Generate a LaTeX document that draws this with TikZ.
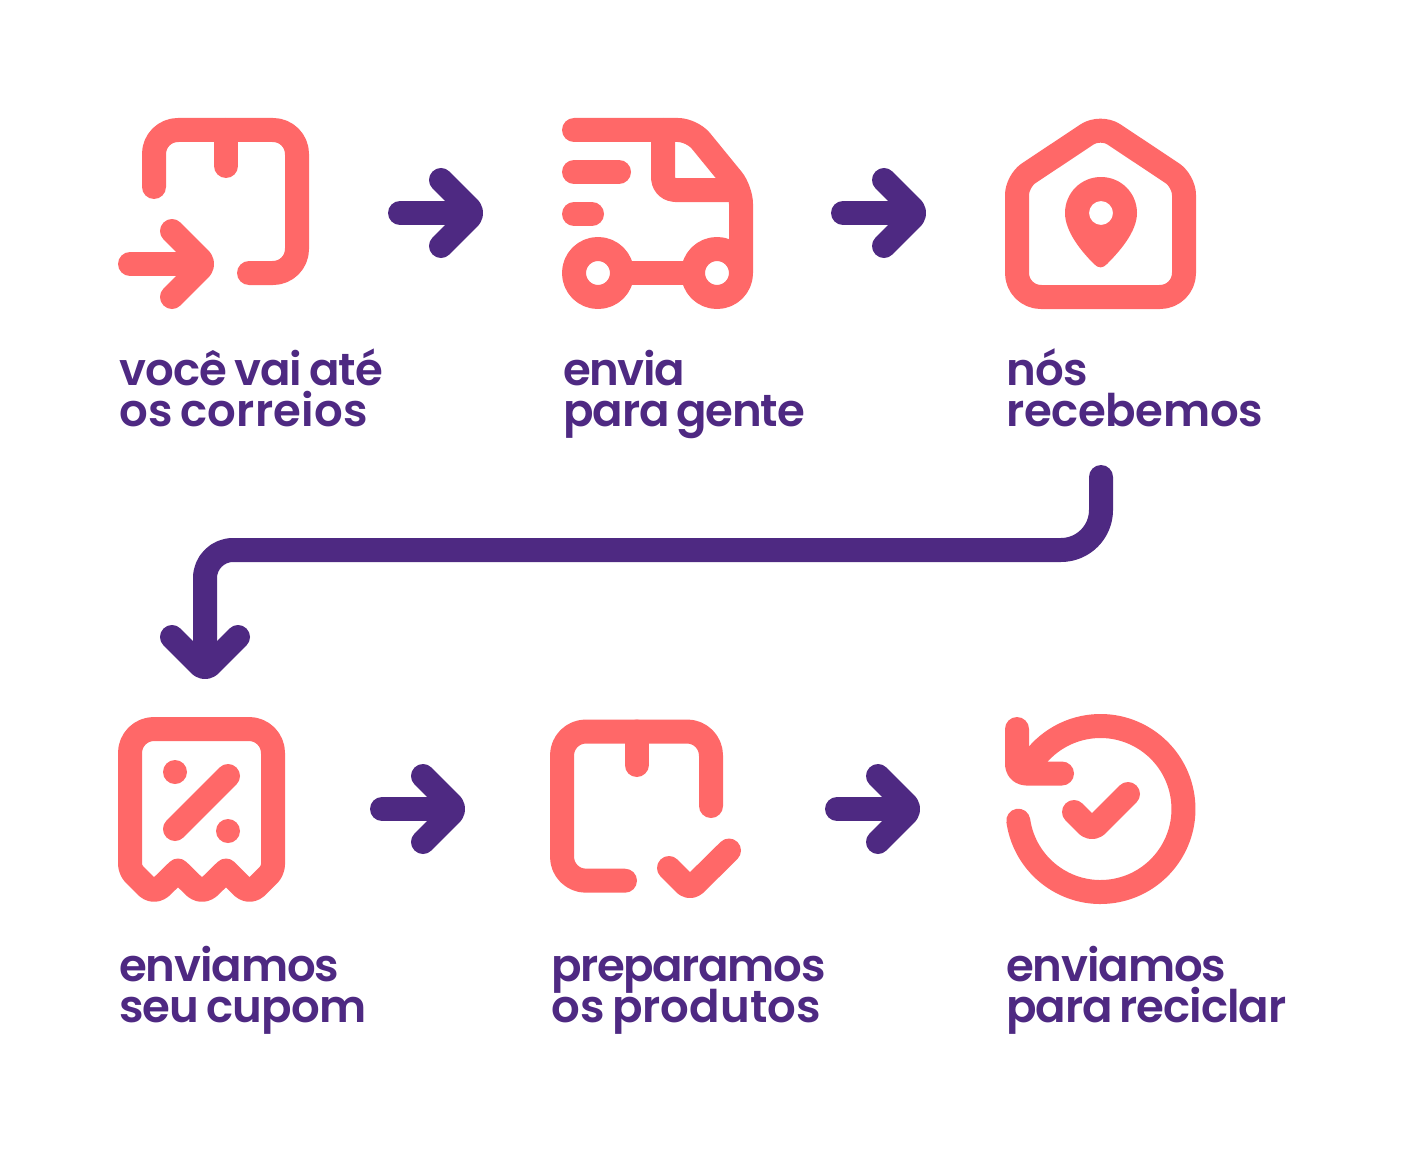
\documentclass[tikz,border=0pt]{standalone}
\usepackage{fontspec}
\newfontfamily\labfont{Poppins}[UprightFont=* SemiBold,WordSpace=0.7]
\newcommand{\lsp}[2]{{\addfontfeature{LetterSpace=#1}#2}}
\newcommand{\labsetup}{\labfont\fontsize{45}{41.6}\selectfont\setlength{\lineskiplimit}{-100pt}\setlength{\lineskip}{0pt}}
\definecolor{coral}{HTML}{FF6868}
\definecolor{grape}{HTML}{4E2982}
\tikzset{
  ico/.style={draw=coral,line width=24pt,line cap=round,line join=round},
  arw/.style={draw=grape,line width=24pt,line cap=round,line join=round},
  lab/.style={text=grape,font=\labsetup,anchor=base west,inner sep=0pt,align=left},
  headright/.pic={\draw[pic actions,rounded corners=7pt] (-33,-33)--(0,0)--(-33,33);},
  headdown/.pic={\draw[pic actions,rounded corners=7pt] (-33,-33)--(0,0)--(33,-33);},
}
\begin{document}
\begin{tikzpicture}[x=1pt,y=-1pt]
\fill[white] (0,0) rectangle (1403,1153);
\useasboundingbox (0,0) rectangle (1403,1153);

% icon 1: parcel with incoming arrow
\draw[ico,rounded corners=24pt] (154,187)--(154,130)--(297,130)--(297,273)--(249,273);
\draw[ico] (226,130)--(226,166);
\coordinate (i1s) at (130,264);
\coordinate (i1e) at (205,264);
\draw[ico] (i1s)--([xshift=-14pt]i1e);
\pic[ico] at (i1e) {headright};

% icon 2: truck
\draw[ico,rounded corners=14pt] (574,130)--(692,130)--(741,190)--(741,273);
\draw[ico,rounded corners=12pt] (663,130)--(663,190)--(730,190);
\draw[ico] (574,172)--(619,172);
\draw[ico] (574,214)--(592,214);
\draw[ico] (622,273)--(693,273);
\draw[ico] (598,273) circle[radius=24];
\draw[ico] (717,273) circle[radius=24];

% icon 3: house with pin
\draw[ico,line cap=butt] (1100,297) [rounded corners=24pt] --(1017,297) [rounded corners=14pt] --(1017,181) [rounded corners=16pt] --(1100.5,125.5) [rounded corners=14pt] --(1184,181) [rounded corners=24pt] --(1184,297) [sharp corners] --cycle;
\fill[coral,even odd rule] (1065,213)
  .. controls (1065,232) and (1082,252) .. (1094,264)
  .. controls (1098,268.5) and (1103,268.5) .. (1107,264)
  .. controls (1119,252) and (1137,232) .. (1137,213)
  .. controls (1137,193) and (1121,177) .. (1101,177)
  .. controls (1081,177) and (1065,193) .. (1065,213) -- cycle
  (1101,213) circle[radius=12];

% icon 4: coupon
\draw[ico] (202,729) [rounded corners=24pt] --(130,729) [rounded corners=6pt] --(130,870) [rounded corners=10pt] --(154,894) [sharp corners] --(178,870.5) [rounded corners=10pt] --(202,894) [sharp corners] --(226,870.5) [rounded corners=10pt] --(249.5,894) [rounded corners=6pt] --(273,870.5) [rounded corners=24pt] --(273,729) [sharp corners] --cycle;
\fill[coral] (175,772) circle[radius=12];
\fill[coral] (228,831) circle[radius=12];
\draw[ico] (228,776)--(175,829);

% icon 5: parcel with check
\draw[ico,rounded corners=24pt] (711,806)--(711,731.5)--(562,731.5)--(562,880.7)--(625,880.7);
\draw[ico] (636.5,731.5)--(636.5,765);
\draw[ico,rounded corners=7pt] (669,868)--(690,889)--(729,850.5);

% icon 6: return with check
\draw[ico] (1018.3,820.7) arc[start angle=171.9,end angle=-154.3,radius=83];
\draw[ico,rounded corners=9pt] (1017,729)--(1017,773.5)--(1062,773.5);
\draw[ico,rounded corners=7pt] (1074,812)--(1092,830)--(1128,794);

% connectors
\coordinate (a1s) at (400,213);  \coordinate (a1e) at (474,213);
\coordinate (a2s) at (843,213);  \coordinate (a2e) at (917,213);
\coordinate (a3s) at (382,809);  \coordinate (a3e) at (456,809);
\coordinate (a4s) at (837,809);  \coordinate (a4e) at (911,809);
\draw[arw] (a1s)--([xshift=-14pt]a1e); \pic[arw] at (a1e) {headright};
\draw[arw] (a2s)--([xshift=-14pt]a2e); \pic[arw] at (a2e) {headright};
\draw[arw] (a3s)--([xshift=-14pt]a3e); \pic[arw] at (a3e) {headright};
\draw[arw] (a4s)--([xshift=-14pt]a4e); \pic[arw] at (a4e) {headright};
\coordinate (ls) at (1101,477);
\coordinate (lc1) at (1101,550);
\coordinate (lc2) at (205,550);
\coordinate (le) at (205,670);
\draw[arw] (ls) [rounded corners=40pt] --(lc1) [rounded corners=28pt] --(lc2) [sharp corners] --([yshift=14pt]le);
\pic[arw] at (le) {headdown};

% labels
\node[lab] (t1) at (119,426.7) {\lsp{-1.9}{você vai até}\\\lsp{0.7}{os correios}};
\node[lab] (t2) at (563,426.7) {\lsp{-3.2}{envia}\\\lsp{-2.5}{para gente}};
\node[lab] (t3) at (1006,426.7) {\lsp{-1}{nós}\\\lsp{-0.7}{recebemos}};
\node[lab] (t4) at (119,1022.7) {\lsp{-2.5}{enviamos}\\\lsp{-1.9}{seu cupom}};
\node[lab] (t5) at (551,1022.7) {\lsp{-3}{preparamos}\\\lsp{0.2}{os produtos}};
\node[lab] (t6) at (1006,1022.7) {\lsp{-2.5}{enviamos}\\\lsp{-2.2}{para reciclar}};
\end{tikzpicture}
\end{document}
